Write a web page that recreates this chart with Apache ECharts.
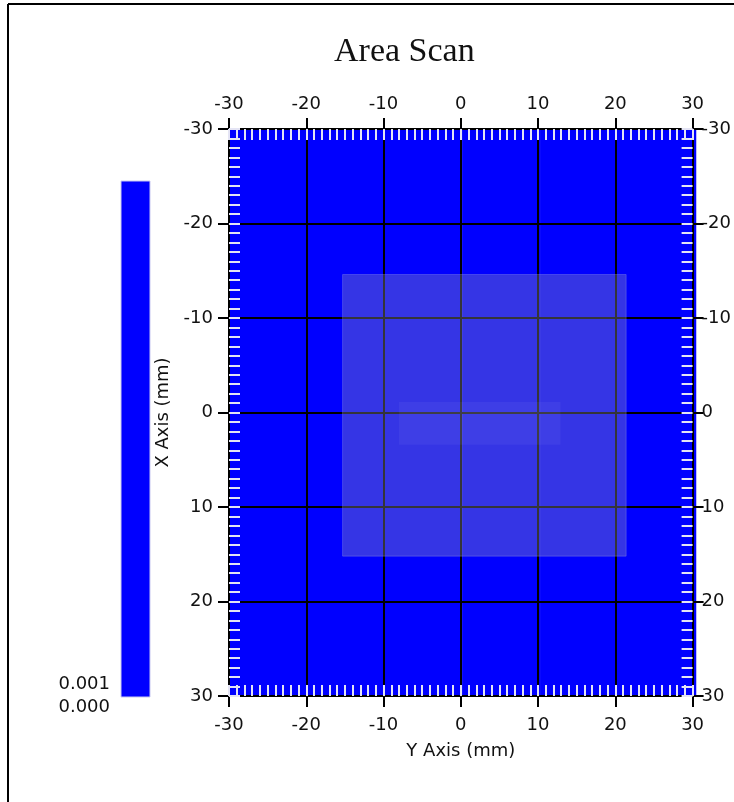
<!DOCTYPE html>
<html>
<head>
<meta charset="utf-8">
<script src="https://cdn.jsdelivr.net/npm/echarts@6/dist/echarts.min.js"></script>
<style>
  html, body { margin: 0; padding: 0; background: #fff; }
  #main { width: 734px; height: 802px; }
</style>
</head>
<body>
<div id="main"></div>
<script>
// scan bins (mm) and the measured values - everything reads 0.000
var xBins = ['-25', '-15', '-5', '5', '15', '25'];
var yBins = ['-25', '-15', '-5', '5', '15', '25'];
var scanValues = [
  [0, 0, 0, 0, 0, 0],
  [0, 0, 0, 0, 0, 0],
  [0, 0, 0, 0, 0, 0],
  [0, 0, 0, 0, 0, 0],
  [0, 0, 0, 0, 0, 0],
  [0, 0, 0, 0, 0, 0]
];
// sample photo overlay, [y0, x0, y1, x1] in mm
var sampleRects = [
  [-15.3, -14.6, 21.4, 15.2],
  [-8.0, -1.1, 12.9, 3.4]
];
var colorbarLabels = ['0.001', '0.000'];

var heatData = [];
scanValues.forEach(function (row, r) {
  row.forEach(function (v, c) { heatData.push([c, r, v]); });
});

var FONT = 'DejaVu Sans';
var labelStyle = { color: '#111', fontSize: 18, fontFamily: FONT };

function majorAxis(pos, margin, grid) {
  return {
    type: 'value', gridIndex: 1, position: pos, min: -30, max: 30, interval: 10,
    z: 3,
    axisLine: { onZero: false, lineStyle: { color: '#000', width: 2 } },
    axisTick: { show: true, inside: false, length: 11, lineStyle: { color: '#000', width: 2 } },
    axisLabel: Object.assign({ margin: margin }, labelStyle),
    splitLine: { show: grid, lineStyle: { color: '#000', width: 2 } }
  };
}
function minorAxis(pos) {
  return {
    type: 'value', gridIndex: 1, position: pos, min: -30, max: 30, interval: 1,
    z: 4,
    axisLine: { show: false, onZero: false },
    axisTick: { show: true, inside: true, length: 11, lineStyle: { color: '#e4e4f4', width: 2 } },
    axisLabel: { show: false },
    splitLine: { show: false }
  };
}

var chart = echarts.init(document.getElementById('main'));
var xBottom = majorAxis('bottom', 20, true);
xBottom.name = 'Y Axis (mm)';
xBottom.nameLocation = 'middle';
xBottom.nameGap = 46;
xBottom.nameTextStyle = { color: '#111', fontSize: 18, fontFamily: FONT };
var yLeft = majorAxis('left', 16, true);
yLeft.inverse = true;
yLeft.name = 'X Axis (mm)';
yLeft.nameLocation = 'middle';
yLeft.nameGap = 52;
yLeft.nameTextStyle = { color: '#111', fontSize: 18, fontFamily: FONT };
var yRight = majorAxis('right', 9, false);
yRight.inverse = true;
var yMinL = minorAxis('left'); yMinL.inverse = true;
var yMinR = minorAxis('right'); yMinR.inverse = true;

var option = {
  backgroundColor: '#fff',
  animation: false,
  title: {
    text: 'Area Scan', left: 329, top: 30,
    textStyle: { fontFamily: 'Liberation Serif', fontSize: 34, fontWeight: 'normal', color: '#111' }
  },
  grid: [
    { left: 229, top: 129, width: 467, height: 567 },
    { left: 229, top: 129, width: 467, height: 567 }
  ],
  xAxis: [
    { type: 'category', gridIndex: 0, data: xBins, show: false },
    xBottom,
    majorAxis('top', 16, false),
    minorAxis('bottom'),
    minorAxis('top')
  ],
  yAxis: [
    { type: 'category', gridIndex: 0, data: yBins, show: false },
    yLeft,
    yRight,
    yMinL,
    yMinR
  ],
  visualMap: {
    type: 'continuous', seriesIndex: 0, min: 0, max: 0.001, show: false,
    inRange: { color: ['#0000ff', '#0000ff'] }
  },
  series: [
    {
      type: 'heatmap', xAxisIndex: 0, yAxisIndex: 0, data: heatData, z: 1,
      itemStyle: { borderWidth: 0 }
    },
    {
      type: 'custom', xAxisIndex: 1, yAxisIndex: 1, z: 6, data: sampleRects,
      renderItem: function (params, api) {
        var p0 = api.coord([api.value(0), api.value(1)]);
        var p1 = api.coord([api.value(2), api.value(3)]);
        var outer = params.dataIndex === 0;
        return {
          type: 'rect',
          shape: {
            x: Math.min(p0[0], p1[0]), y: Math.min(p0[1], p1[1]),
            width: Math.abs(p1[0] - p0[0]), height: Math.abs(p1[1] - p0[1])
          },
          style: {
            fill: outer ? 'rgba(160,160,175,0.33)' : 'rgba(190,190,255,0.07)',
            stroke: outer ? 'rgba(200,200,230,0.25)' : null,
            lineWidth: 1
          }
        };
      }
    }
  ],
  graphic: [
    { type: 'line', shape: { x1: 8, y1: 4, x2: 734, y2: 4 }, style: { stroke: '#000', lineWidth: 2 } },
    { type: 'line', shape: { x1: 8, y1: 4, x2: 8, y2: 802 }, style: { stroke: '#000', lineWidth: 2 } },
    // colour scale bar (the whole scale is blue)
    { type: 'rect', shape: { x: 121, y: 181, width: 29, height: 516 }, style: { fill: '#0000ff', stroke: '#c8c8f0', lineWidth: 1 } },
    { type: 'text', right: 734 - 110, top: 675, style: { text: colorbarLabels[0], fill: '#111', font: '18px "DejaVu Sans"' } },
    { type: 'text', right: 734 - 110, top: 698, style: { text: colorbarLabels[1], fill: '#111', font: '18px "DejaVu Sans"' } }
  ]
};
chart.setOption(option);
</script>
</body>
</html>
